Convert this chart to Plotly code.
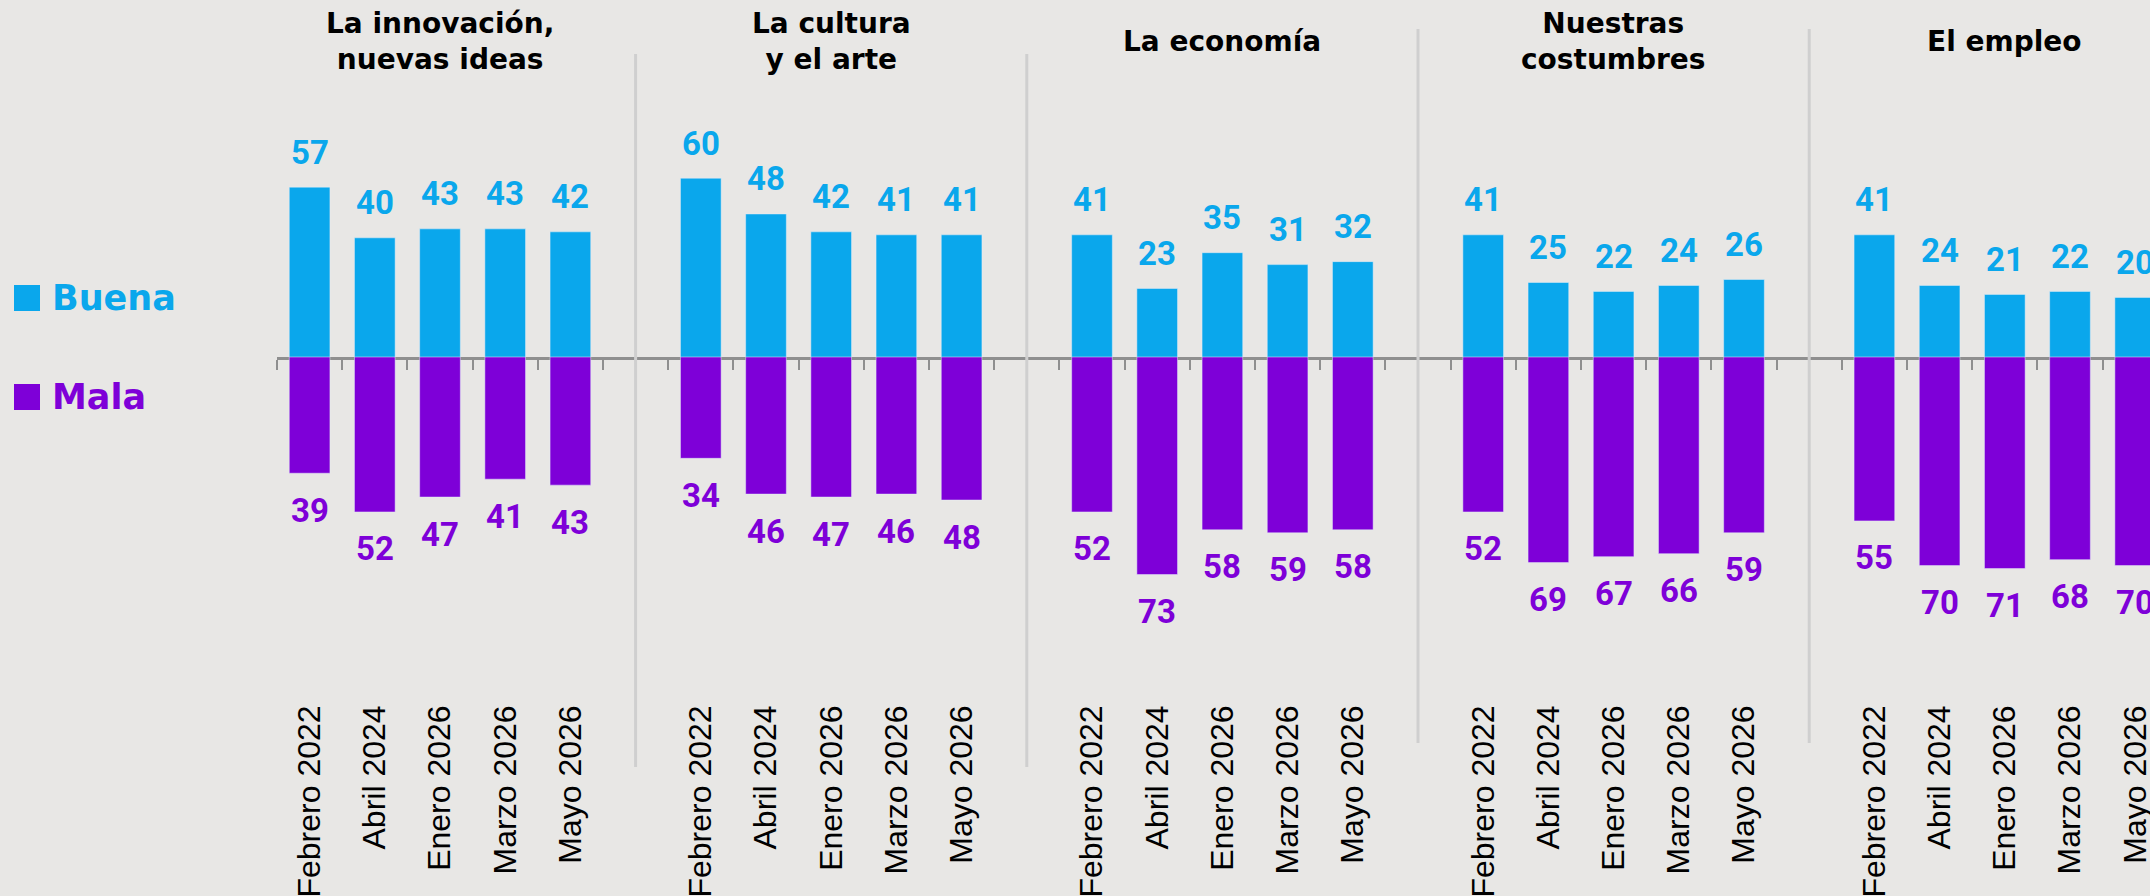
import plotly.graph_objects as go

# Datos
grupos = ["La innovación,<br>nuevas ideas", "La cultura<br>y el arte", "La economía",
          "Nuestras<br>costumbres", "El empleo"]
fechas = ["Febrero 2022", "Abril 2024", "Enero 2026", "Marzo 2026", "Mayo 2026"]

buena_innovacion = [57, 40, 43, 43, 42]
mala_innovacion = [39, 52, 47, 41, 43]
buena_cultura = [60, 48, 42, 41, 41]
mala_cultura = [34, 46, 47, 46, 48]
buena_economia = [41, 23, 35, 31, 32]
mala_economia = [52, 73, 58, 59, 58]
buena_costumbres = [41, 25, 22, 24, 26]
mala_costumbres = [52, 69, 67, 66, 59]
buena_empleo = [41, 24, 21, 22, 20]
mala_empleo = [55, 70, 71, 68, 70]

buena = [buena_innovacion, buena_cultura, buena_economia, buena_costumbres, buena_empleo]
mala = [mala_innovacion, mala_cultura, mala_economia, mala_costumbres, mala_empleo]

AZUL = "#0AA7EC"
MORADO = "#7E00D8"
FONDO = "#E8E7E5"
GRIS = "#8F8F8F"

W, H = 2150, 896
paso = len(fechas) + 1          # 5 fechas + un hueco entre grupos
x0_px, pitch = 277, 65.2        # inicio del eje y ancho de cada hueco
cero_px, fondo_px, px_unidad = 357, 698, 2.98

xs, yb, ym, ticktext = [], [], [], []
for g in range(len(grupos)):
    for j, f in enumerate(fechas):
        xs.append(g * paso + j)
        yb.append(buena[g][j])
        ym.append(mala[g][j])
        ticktext.append(f)

fig = go.Figure()
fig.add_trace(go.Bar(x=xs, y=yb, name="Buena", marker_color=AZUL, xaxis="x", yaxis="y"))
fig.add_trace(go.Bar(x=xs, y=ym, name="Mala", marker_color=MORADO, xaxis="x2", yaxis="y2"))

fuente_num = "Roboto, Liberation Sans, Arial"
anot = []
for x, v in zip(xs, yb):
    anot.append(dict(x=x, y=v, xref="x", yref="y", text=str(v), showarrow=False,
                     yanchor="middle", yshift=35,
                     font=dict(family=fuente_num, size=33, color=AZUL, weight="bold")))
for x, v in zip(xs, ym):
    anot.append(dict(x=x, y=v, xref="x2", yref="y2", text=str(v), showarrow=False,
                     yanchor="middle", yshift=-37,
                     font=dict(family=fuente_num, size=33, color=MORADO, weight="bold")))
for g, t in enumerate(grupos):
    anot.append(dict(x=g * paso + 2, y=1 - 41 / H, xref="x", yref="paper", text=t, showarrow=False,
                     yanchor="middle", align="center",
                     font=dict(family="DejaVu Sans", size=28, color="black", weight="bold")))

# leyenda a mano
for nombre, color, yc in [("Buena", AZUL, 298), ("Mala", MORADO, 397)]:
    anot.append(dict(x=50 / W, y=1 - yc / H, xref="paper", yref="paper", text=nombre,
                     showarrow=False, xanchor="left", yanchor="middle",
                     font=dict(family="DejaVu Sans", size=35, color=color, weight="bold")))

shapes = []
for nombre, color, yc in [("Buena", AZUL, 298), ("Mala", MORADO, 397)]:
    shapes.append(dict(type="rect", xref="paper", yref="paper", x0=14 / W, x1=40 / W,
                       y0=1 - (yc - 13) / H, y1=1 - (yc + 13) / H,
                       fillcolor=color, line_width=0))

# separadores entre grupos
sep_px = [(54, 767), (54, 767), (29, 743), (29, 743)]
for g in range(len(grupos) - 1):
    top, bot = sep_px[g]
    shapes.append(dict(type="line", xref="x", yref="paper", x0=g * paso + 5, x1=g * paso + 5,
                       y0=1 - top / H, y1=1 - bot / H, line=dict(color="#CFCFCF", width=3)))

rango_x = [-0.5, -0.5 + (W - x0_px) / pitch]
n_slots = paso * len(grupos)

fig.update_layout(
    width=W, height=H,
    margin=dict(l=0, r=0, t=0, b=0),
    paper_bgcolor=FONDO, plot_bgcolor=FONDO,
    showlegend=False,
    bargap=0.376,
    annotations=anot,
    shapes=shapes,
    xaxis=dict(domain=[x0_px / W, 1], range=rango_x, anchor="y",
               showline=True, linecolor=GRIS, linewidth=3,
               tickmode="array", tickvals=[p - 0.5 for p in range(n_slots + 1)],
               ticks="outside", ticklen=10, tickwidth=2, tickcolor=GRIS,
               showticklabels=False, showgrid=False, zeroline=False, fixedrange=True),
    yaxis=dict(domain=[1 - cero_px / H, 1], range=[0, cero_px / px_unidad], anchor="x",
               visible=False, fixedrange=True),
    xaxis2=dict(domain=[x0_px / W, 1], range=rango_x, anchor="y2", matches="x",
                showline=False, ticks="", tickmode="array", tickvals=xs, ticktext=ticktext,
                tickangle=-90, automargin=False, showgrid=False, zeroline=False,
                ticklabeloverflow="allow",
                tickfont=dict(family="Liberation Sans, Arial", size=32, color="black")),
    yaxis2=dict(domain=[1 - fondo_px / H, 1 - cero_px / H],
                range=[(fondo_px - cero_px) / px_unidad, 0], anchor="x2",
                visible=False, fixedrange=True),
)

fig.write_html("out.html", config={"displayModeBar": False},
               post_script="document.body.style.margin='0px';")
